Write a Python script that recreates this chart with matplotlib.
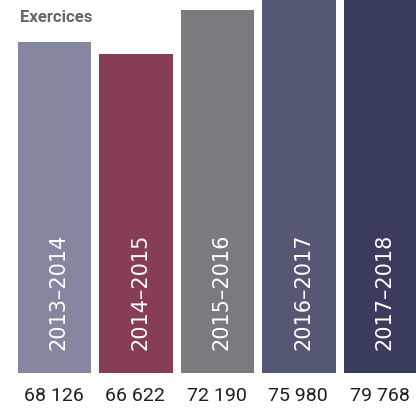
import matplotlib

matplotlib.use("Agg")
import matplotlib.pyplot as plt
import matplotlib.transforms as mtransforms
import numpy as np

periods = ["2013–2014", "2014–2015", "2015–2016", "2016–2017", "2017–2018"]
values = [68126, 66622, 72190, 75980, 79768]
value_labels = ["68 126", "66 622", "72 190", "75 980", "79 768"]
colors = ["#85869f", "#873d55", "#7a7b7f", "#555875", "#3a3c5d"]

plt.rcParams["font.family"] = ["DejaVu Sans"]

fig = plt.figure(figsize=(4.16, 4.09), dpi=100)
ax = fig.add_axes([0, 1 - 372.7 / 409, 1, 372.7 / 409])
x = np.arange(len(values))
ax.bar(x, values, width=0.896, color=colors)
ax.set_xlim(-54.5 / 81.5, (416 - 54.5) / 81.5)
ax.set_ylim(26573, 73466)
ax.axis("off")

# x in data units, y in figure fraction for the values under the bars
below = mtransforms.blended_transform_factory(ax.transData, fig.transFigure)

for xi, period, label in zip(x, periods, value_labels):
    ax.text(xi + 0.05, 0.061, period, transform=ax.get_xaxis_transform(),
            rotation=90, ha="center", va="bottom", color="white", fontsize=15)
    ax.text(xi - 0.01, 1 - 400.7 / 409, label, transform=below,
            ha="center", va="baseline", color="#1e1e1e", fontsize=14,
            family="Roboto", clip_on=False)

fig.text(20 / 416, 1 - 21.7 / 409, "Exercices", ha="left", va="baseline",
         fontsize=12, fontweight="bold", color="#666666", family="Roboto")

fig.savefig("out.png", dpi=100)
